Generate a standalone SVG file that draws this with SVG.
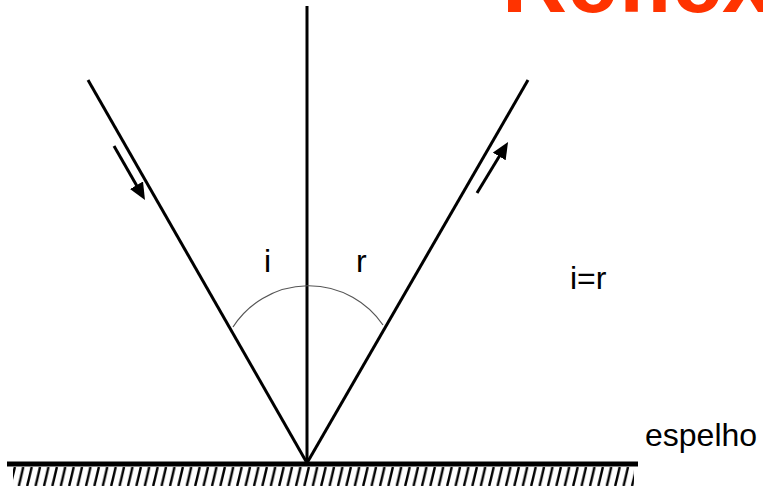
<svg xmlns="http://www.w3.org/2000/svg" width="763" height="493" viewBox="0 0 763 493">
<style>
.ray{stroke:#000;stroke-width:3;fill:none}
.lbl{font-family:"Liberation Sans",Arial,sans-serif;font-size:32px;fill:#000}
.title{font-family:"Liberation Sans",Arial,sans-serif;font-size:90px;font-weight:bold;fill:#FF3300}
</style>
<defs>
<marker id="ah" markerUnits="userSpaceOnUse" markerWidth="17" markerHeight="15" refX="4" refY="7.5" orient="auto">
<path d="M0,0 L17,7.5 L0,15 z" fill="#000"/>
</marker>
<pattern id="hatch" patternUnits="userSpaceOnUse" x="0" y="467" width="8.4" height="19">
<line x1="6.5" y1="0" x2="2" y2="19" stroke="#000" stroke-width="2.4"/>
</pattern>
</defs>
<rect width="763" height="493" fill="#fff"/>
<text class="title" x="502" y="12">Reflexão</text>
<g id="mirror">
<line x1="7" y1="464" x2="638" y2="464" stroke="#000" stroke-width="5"/>
<rect x="13" y="467" width="621" height="19" fill="url(#hatch)"/>
</g>
<g id="connectors">
<line id="normal" class="ray" x1="307" y1="6" x2="307" y2="463"/>
<line id="incident" class="ray" x1="88" y1="80" x2="307" y2="463"/>
<line id="reflected" class="ray" x1="307" y1="463" x2="528" y2="80"/>
<line class="ray" x1="114" y1="146" x2="138.5" y2="188.7" marker-end="url(#ah)"/>
<line class="ray" x1="477" y1="193" x2="501.3" y2="153" marker-end="url(#ah)"/>
<path id="angle-arc" d="M233,327 A90,90 0 0 1 383,325" fill="none" stroke="#555" stroke-width="1.2"/>
</g>
<g id="label-i"><text class="lbl" x="264" y="272">i</text></g>
<g id="label-r"><text class="lbl" x="356" y="272">r</text></g>
<g id="label-eq"><text class="lbl" x="570" y="289">i=r</text></g>
<g id="label-espelho"><text class="lbl" x="645" y="446">espelho</text></g>
</svg>
